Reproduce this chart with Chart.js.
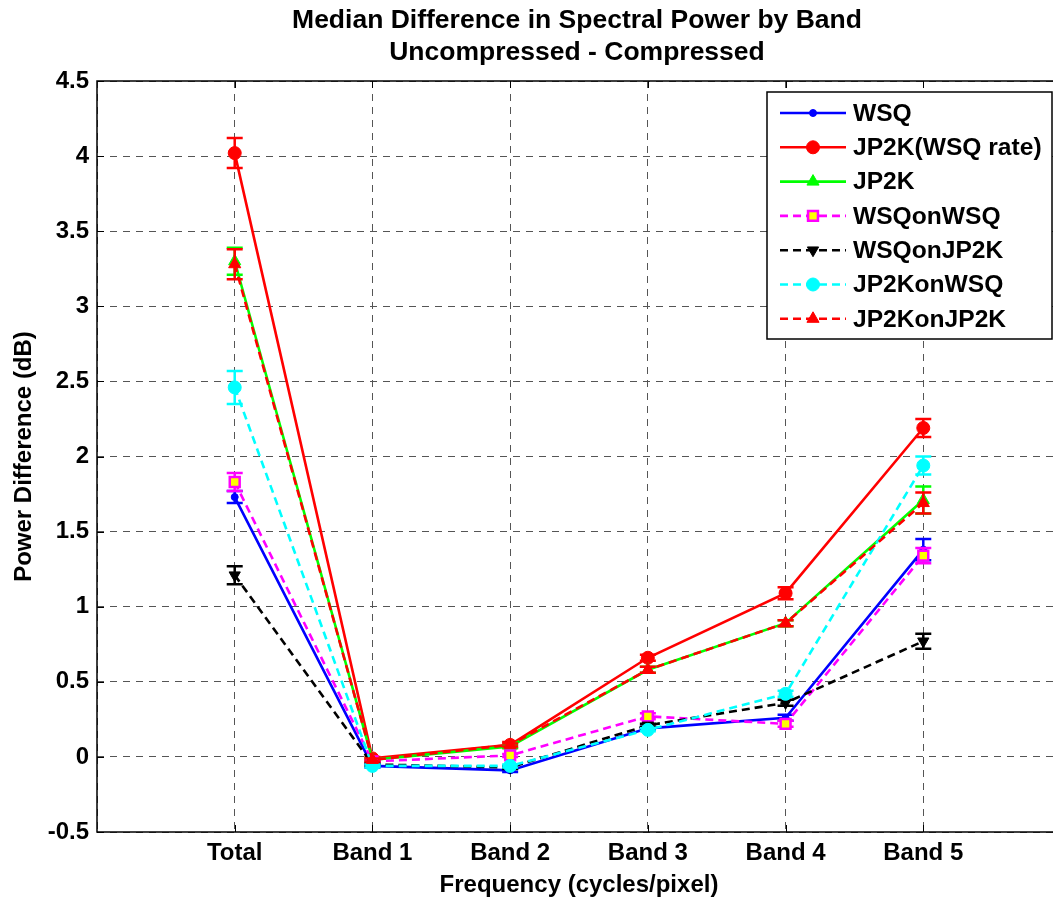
<!DOCTYPE html>
<html><head><meta charset="utf-8">
<script src="https://cdn.jsdelivr.net/npm/chart.js@4.4.0/dist/chart.umd.min.js"></script>
<style>html,body{margin:0;padding:0;background:#fff;overflow:hidden;width:1053px;height:898px}canvas{display:block}</style>
</head><body><canvas id="c" width="1154" height="898"></canvas>
<script>
// ---- data ----
const categories = ['Total', 'Band 1', 'Band 2', 'Band 3', 'Band 4', 'Band 5'];
const yTickLabels = ['-0.5', '0', '0.5', '1', '1.5', '2', '2.5', '3', '3.5', '4', '4.5'];
const seriesNames = ['WSQ', 'JP2K(WSQ rate)', 'JP2K', 'WSQonWSQ', 'WSQonJP2K', 'JP2KonWSQ', 'JP2KonJP2K'];

const wsq        = [1.73, -0.06, -0.09, 0.19, 0.26, 1.38];
const jp2kWsqRate= [4.02, -0.01,  0.08, 0.66, 1.09, 2.19];
const jp2k       = [3.30, -0.02,  0.07, 0.58, 0.89, 1.71];
const wsqOnWsq   = [1.83, -0.03,  0.01, 0.27, 0.22, 1.34];
const wsqOnJp2k  = [1.21, -0.05, -0.07, 0.21, 0.36, 0.77];
const jp2kOnWsq  = [2.46, -0.06, -0.06, 0.18, 0.42, 1.94];
const jp2kOnJp2k = [3.28, -0.02,  0.08, 0.58, 0.89, 1.69];

const errWsq        = [0.04, 0.01, 0.01, 0.01, 0.02, 0.07];
const errJp2kWsqRate= [0.10, 0.01, 0.02, 0.02, 0.04, 0.06];
const errJp2k       = [0.09, 0.01, 0.01, 0.02, 0.02, 0.09];
const errWsqOnWsq   = [0.06, 0.01, 0.01, 0.02, 0.02, 0.05];
const errWsqOnJp2k  = [0.06, 0.01, 0.01, 0.01, 0.02, 0.05];
const errJp2kOnWsq  = [0.11, 0.01, 0.01, 0.01, 0.02, 0.06];
const errJp2kOnJp2k = [0.10, 0.01, 0.01, 0.02, 0.02, 0.07];

// ---- build ----
const FONT = 'Arial, "Liberation Sans", sans-serif';
const pts = v => v.map((y, i) => ({x: i + 1, y}));
const styles = [
  {c:'#0000ff', dash:[], ps:'circle', r:3.5, bg:'#0000ff', rot:0},
  {c:'#ff0000', dash:[], ps:'circle', r:6.5, bg:'#ff0000', rot:0},
  {c:'#00ff00', dash:[], ps:'triangle', r:7, bg:'#00ff00', rot:0},
  {c:'#ff00ff', dash:[8,5], ps:'rect', r:7, bg:'#ffff00', rot:0},
  {c:'#000000', dash:[8,5], ps:'triangle', r:6.5, bg:'#000000', rot:180},
  {c:'#00ffff', dash:[8,5], ps:'circle', r:6.5, bg:'#00ffff', rot:0},
  {c:'#ff0000', dash:[8,5], ps:'triangle', r:7, bg:'#ff0000', rot:0},
];
const values = [wsq, jp2kWsqRate, jp2k, wsqOnWsq, wsqOnJp2k, jp2kOnWsq, jp2kOnJp2k];
const errors = [errWsq, errJp2kWsqRate, errJp2k, errWsqOnWsq, errWsqOnJp2k, errJp2kOnWsq, errJp2kOnJp2k];

const datasets = seriesNames.map((name, i) => ({
  label: name,
  data: pts(values[i]),
  errors: errors[i],
  borderColor: styles[i].c,
  backgroundColor: styles[i].bg,
  borderDash: styles[i].dash,
  borderWidth: 2.6,
  pointStyle: styles[i].ps,
  pointRadius: styles[i].r,
  pointRotation: styles[i].rot,
  pointBackgroundColor: styles[i].bg,
  pointBorderColor: styles[i].c,
  pointBorderWidth: styles[i].ps === 'rect' ? 2.5 : 1,
  tension: 0,
  fill: false,
  order: 20 - i
}));

const errorBarPlugin = {
  id: 'errbars',
  beforeDatasetDraw(chart, args) {
    const ds = chart.data.datasets[args.index];
    if (!ds.errors) return;
    const {ctx} = chart; const xs = chart.scales.x, ys = chart.scales.y;
    ctx.save();
    ctx.strokeStyle = ds.borderColor; ctx.lineWidth = 2.5; ctx.setLineDash([]);
    ds.data.forEach((p, i) => {
      const x = xs.getPixelForValue(p.x);
      const yt = ys.getPixelForValue(p.y + ds.errors[i]);
      const yb = ys.getPixelForValue(p.y - ds.errors[i]);
      ctx.beginPath();
      ctx.moveTo(x, yb); ctx.lineTo(x, yt);
      ctx.moveTo(x - 8, yt); ctx.lineTo(x + 8, yt);
      ctx.moveTo(x - 8, yb); ctx.lineTo(x + 8, yb);
      ctx.stroke();
    });
    ctx.restore();
  }
};

const frameLegendPlugin = {
  id: 'frameLegend',
  afterDraw(chart) {
    const {ctx, chartArea: a} = chart;
    const xs = chart.scales.x, ys = chart.scales.y;
    ctx.save();
    ctx.setLineDash([]);
    ctx.strokeStyle = '#000'; ctx.lineWidth = 1.5;
    ctx.strokeRect(a.left, a.top, a.right - a.left, a.bottom - a.top);
    // inward ticks
    ctx.lineWidth = 1;
    ctx.beginPath();
    ys.ticks.forEach(t => {
      const y = Math.round(ys.getPixelForValue(t.value)) + 0.5;
      ctx.moveTo(a.left, y); ctx.lineTo(a.left + 7, y);
      ctx.moveTo(a.right, y); ctx.lineTo(a.right - 7, y);
    });
    for (let k = 1; k <= categories.length; k++) {
      const x = Math.round(xs.getPixelForValue(k)) + 0.5;
      ctx.moveTo(x, a.bottom); ctx.lineTo(x, a.bottom - 7);
      ctx.moveTo(x, a.top); ctx.lineTo(x, a.top + 7);
    }
    ctx.stroke();
    // legend
    const L = 767, T = 92, R = 1052, B = 339;
    ctx.fillStyle = '#fff';
    ctx.fillRect(L, T, R - L, B - T);
    ctx.strokeStyle = '#000'; ctx.lineWidth = 1.5;
    ctx.strokeRect(L, T, R - L, B - T);
    chart.data.datasets.forEach((ds, i) => {
      const y = 113 + i * 34.3;
      ctx.save();
      ctx.strokeStyle = ds.borderColor; ctx.lineWidth = 2.6;
      ctx.setLineDash(ds.borderDash);
      ctx.beginPath(); ctx.moveTo(780, y); ctx.lineTo(846, y); ctx.stroke();
      ctx.setLineDash([]);
      ctx.fillStyle = ds.pointBackgroundColor; ctx.strokeStyle = ds.pointBorderColor;
      ctx.lineWidth = ds.pointBorderWidth;
      Chart.helpers.drawPoint(ctx, {pointStyle: ds.pointStyle, radius: ds.pointRadius, rotation: ds.pointRotation, borderWidth: ds.pointBorderWidth}, 813, y);
      ctx.restore();
      ctx.fillStyle = '#000';
      ctx.font = 'bold 24.6px ' + FONT;
      ctx.textAlign = 'left'; ctx.textBaseline = 'middle';
      ctx.fillText(ds.label, 853, y + 1);
    });
    ctx.restore();
  }
};

new Chart(document.getElementById('c'), {
  type: 'line',
  data: {datasets},
  plugins: [errorBarPlugin, frameLegendPlugin],
  options: {
    responsive: false,
    animation: false,
    devicePixelRatio: 1,
    layout: {padding: {left: 0, right: 0, top: 0, bottom: 0}},
    plugins: {
      legend: {display: false},
      tooltip: {enabled: false},
      title: {
        display: true,
        text: ['Median Difference in Spectral Power by Band', 'Uncompressed - Compressed'],
        color: '#000',
        font: {family: FONT, size: 26.5, weight: 'bold', lineHeight: 32/26.5},
        padding: {top: 5, bottom: 12}
      }
    },
    scales: {
      x: {
        type: 'linear', min: 0, max: categories.length + 1,
        afterFit: s => { s.height = 66; },
        afterBuildTicks: s => { s.ticks = Array.from({length: categories.length + 2}, (_, k) => ({value: k})); },
        ticks: {
          stepSize: 1, autoSkip: false, maxRotation: 0, padding: 7, color: '#000',
          font: {family: FONT, size: 24, weight: 'bold', lineHeight: 1.2},
          callback: v => (v >= 1 && v <= categories.length) ? categories[v - 1] : ''
        },
        grid: {color: '#555', lineWidth: 1, drawTicks: false},
        border: {display: false, dash: [7, 6]},
        title: {display: true, text: 'Frequency (cycles/pixel)', color: '#000',
          font: {family: FONT, size: 24, weight: 'bold', lineHeight: 1}, padding: {top: 0, bottom: 1}}
      },
      y: {
        type: 'linear', min: -0.5, max: 4.5,
        afterFit: s => { s.width = 97; },
        afterBuildTicks: s => { s.ticks = yTickLabels.map(t => ({value: parseFloat(t)})); },
        ticks: {
          padding: 8, color: '#000',
          font: {family: FONT, size: 24, weight: 'bold'},
          callback: v => yTickLabels.find(t => parseFloat(t) === v) ?? ''
        },
        grid: {color: '#555', lineWidth: 1, drawTicks: false},
        border: {display: false, dash: [7, 6]},
        title: {display: true, text: 'Power Difference (dB)', color: '#000',
          font: {family: FONT, size: 24, weight: 'bold', lineHeight: 1}, padding: {top: 12, bottom: 0}}
      },
      yRight: {
        type: 'linear', position: 'right', display: true,
        afterFit: s => { s.width = 93; },
        ticks: {display: false}, grid: {display: false}, border: {display: false}
      }
    }
  }
});
</script>
</body></html>
